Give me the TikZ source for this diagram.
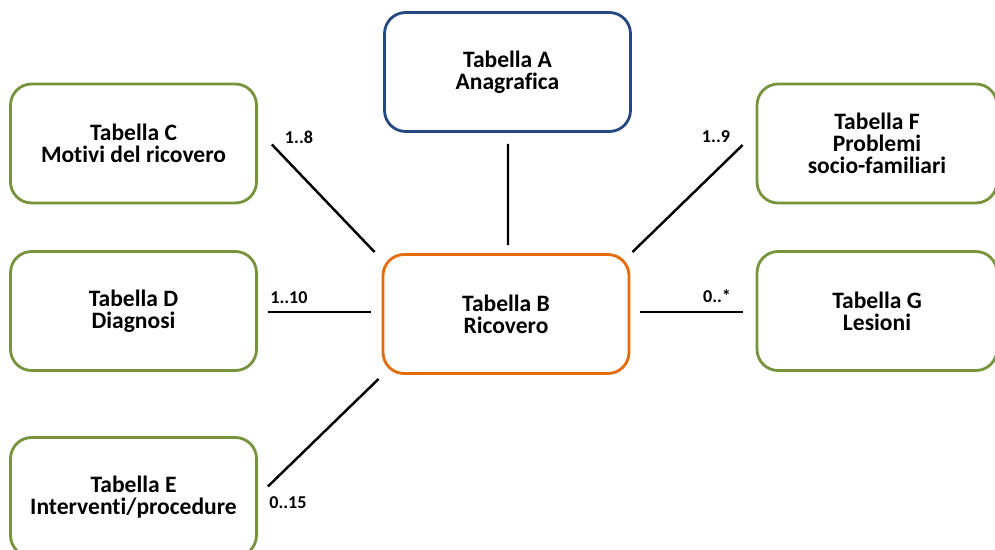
\documentclass[tikz,border=0pt]{standalone}
\usepackage{fontspec}
\setmainfont{Carlito}[Ligatures=NoCommon]
\usepackage{tikz}
\usetikzlibrary{
  calc,
  positioning
}
\definecolor{tabgreen}{RGB}{119,147,60}
\definecolor{tabblue}{RGB}{37,72,128}
\definecolor{taborange}{RGB}{228,108,10}

\begin{document}
\begin{tikzpicture}[
  x=0.02cm, y=-0.02cm,
  table/.style={draw, line width=1.6pt, rounded corners=12pt, fill=white,
                align=center, font=\fontsize{13.4}{12.6}\selectfont\bfseries,
                minimum width=4.92cm, minimum height=2.38cm, inner sep=0pt},
  link/.style={line width=1.4pt},
  mult/.style={font=\fontsize{10.3}{11}\selectfont\bfseries, inner sep=0pt}
]
  \useasboundingbox (0,0) rectangle (995,549);
  % Central table
  \node[table, draw=taborange] (B) at (506,314) {Tabella B\\Ricovero};
  % Top
  \node[table, draw=tabblue] (A) at (507.5,72) {Tabella A\\Anagrafica};
  % Left column
  \node[table, draw=tabgreen] (C) at (133.5,143.5) {Tabella C\\Motivi del ricovero};
  \node[table, draw=tabgreen] (D) at (133.5,311) {Tabella D\\Diagnosi};
  \node[table, draw=tabgreen] (E) at (133.5,497) {Tabella E\\Interventi/procedure};
  % Right column
  \node[table, draw=tabgreen, minimum width=4.8cm] (F) at (877,143.5) {Tabella F\\Problemi\\socio-familiari};
  \node[table, draw=tabgreen, minimum width=4.8cm] (G) at (877,311) {Tabella G\\Lesioni};

  \draw[link] ([shift={(14,1)}]C.east) -- ([shift={(-7,-1)}]B.north west);
  \draw[link] ([shift={(0.5,11)}]A.south) -- ([shift={(2,-8)}]B.north);
  \draw[link] ([shift={(-13,1.5)}]F.west) -- ([shift={(2,-1)}]B.north east);
  \draw[link] ([shift={(10,1)}]D.east) -- ([shift={(-11,-2)}]B.west);
  \draw[link] ([shift={(-13,1)}]G.west) -- ([shift={(10,-2)}]B.east);
  \draw[link] ([shift={(10,-10.5)}]E.east) -- ([shift={(-3,4)}]B.south west);

  % Multiplicities
  \node[mult] (mC) at (299,137) {1..8};
  \node[mult] (mF) at (716,137) {1..9};
  \node[mult] (mD) at (289,298) {1..10};
  \node[mult] (mG) at (717,296) {0..*};
  \node[mult] (mE) at (288,503) {0..15};
\end{tikzpicture}
\end{document}
